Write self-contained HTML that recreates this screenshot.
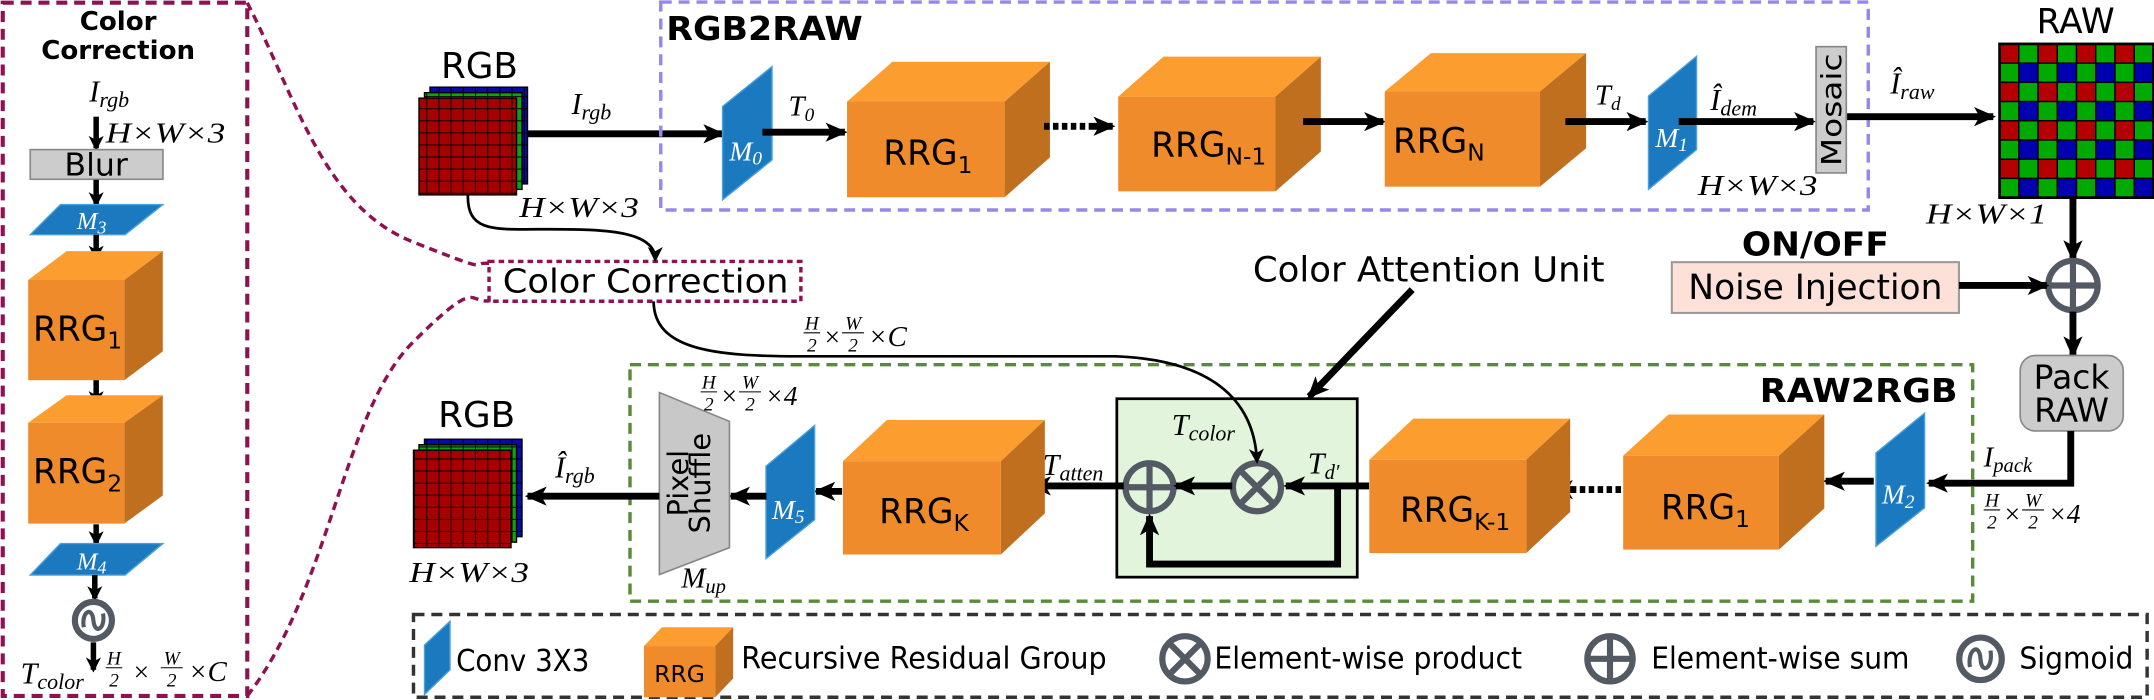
<!DOCTYPE html>
<html><head><meta charset="utf-8"><style>
html,body{margin:0;padding:0;background:#fff;}
svg{display:block;}
.s{font-family:"DejaVu Sans","Liberation Sans",sans-serif;fill:#000;}
.b{font-family:"DejaVu Sans","Liberation Sans",sans-serif;font-weight:bold;fill:#000;}
.m{font-family:"Liberation Serif",serif;font-style:italic;fill:#000;}
.mw{font-family:"Liberation Serif",serif;font-style:italic;fill:#fff;}
</style></head><body>
<svg width="2154" height="700" viewBox="0 0 1568 510" preserveAspectRatio="none" xmlns="http://www.w3.org/2000/svg">
<defs>
<marker id="a" markerUnits="userSpaceOnUse" markerWidth="16" markerHeight="14" refX="14" refY="7" orient="auto"><path d="M0,0 L16,7 L0,14 L4,7 z" fill="#000"/></marker>
<marker id="t" markerUnits="userSpaceOnUse" markerWidth="11" markerHeight="11" refX="9" refY="5.5" orient="auto"><path d="M0,0 L11,5.5 L0,11 L3,5.5 z" fill="#000"/></marker>
<pattern id="g8" x="0" y="0" width="8.875" height="8.8" patternUnits="userSpaceOnUse"><rect width="8.875" height="8.8" fill="none" stroke="#000" stroke-width="0.7"/></pattern>
</defs>

<!-- LEFT PANEL -->
<rect x="2" y="2" width="178" height="505" fill="none" stroke="#8e1150" stroke-width="3" stroke-dasharray="8,5"/>
<text class="b" x="86" y="22" font-size="19" text-anchor="middle">Color</text>
<text class="b" x="86" y="43" font-size="19" text-anchor="middle">Correction</text>
<text class="m" x="65" y="74" font-size="22">I<tspan font-size="16" dy="4">rgb</tspan></text>
<line x1="70" y1="85" x2="70" y2="108" stroke="#000" stroke-width="4" marker-end="url(#t)"/>
<text class="m" x="77" y="104" font-size="21" textLength="87" lengthAdjust="spacingAndGlyphs">H×W×3</text>
<rect x="22" y="109" width="96.6" height="21.6" fill="#cccccc" stroke="#888" stroke-width="1.2"/>
<text class="s" x="70" y="128" font-size="23" text-anchor="middle">Blur</text>
<line x1="70" y1="131" x2="70" y2="149" stroke="#000" stroke-width="4" marker-end="url(#t)"/>
<polygon points="22,171 91,171 118.6,149 44,149" fill="#1b7abf" stroke="#4aa0dc" stroke-width="1"/>
<text class="mw" x="56" y="167" font-size="18">M<tspan font-size="13" dy="3">3</tspan></text>
<line x1="70" y1="171" x2="70" y2="188" stroke="#000" stroke-width="4" marker-end="url(#t)"/>
<g>
<polygon points="20.5,204 48.5,183 118.5,183 90.5,204" fill="#fb9e2f"/>
<polygon points="90.5,204 118.5,183 118.5,256 90.5,277" fill="#c06f1f"/>
<rect x="20.5" y="204" width="70" height="73" fill="#ef8b2a"/>
<text class="s" x="24" y="248" font-size="25">RRG<tspan font-size="17" dy="6">1</tspan></text>
</g>
<line x1="70" y1="277" x2="70" y2="294" stroke="#000" stroke-width="4" marker-end="url(#t)"/>
<g>
<polygon points="20.5,308 48.5,288 118.5,288 90.5,308" fill="#fb9e2f"/>
<polygon points="90.5,308 118.5,288 118.5,361 90.5,381.5" fill="#c06f1f"/>
<rect x="20.5" y="308" width="70" height="73.5" fill="#ef8b2a"/>
<text class="s" x="24" y="352" font-size="25">RRG<tspan font-size="17" dy="6">2</tspan></text>
</g>
<line x1="70" y1="382" x2="70" y2="396" stroke="#000" stroke-width="4" marker-end="url(#t)"/>
<polygon points="22,419 91,419 118.6,396 44,396" fill="#1b7abf" stroke="#4aa0dc" stroke-width="1"/>
<text class="mw" x="56" y="415" font-size="18">M<tspan font-size="13" dy="3">4</tspan></text>
<line x1="69" y1="419" x2="69" y2="436" stroke="#000" stroke-width="4" marker-end="url(#t)"/>
<circle cx="68" cy="452" r="13.5" fill="none" stroke="#535a64" stroke-width="4.5"/>
<path d="M61,457 C59,446 67,441 68,452 C69,463 77,458 75,447" fill="none" stroke="#535a64" stroke-width="3"/>
<line x1="68" y1="468" x2="68" y2="488" stroke="#000" stroke-width="4" marker-end="url(#t)"/>
<text class="m" x="15" y="498" font-size="22">T<tspan font-size="16" dy="4">color</tspan></text>
<text class="m" x="83" y="484" font-size="14" text-anchor="middle">H</text>
<line x1="77" y1="486.5" x2="89" y2="486.5" stroke="#000" stroke-width="0.8"/>
<text class="m" x="83" y="500" font-size="14" text-anchor="middle" font-style="normal">2</text>
<text class="m" x="96" y="496" font-size="20" font-style="normal">×</text>
<text class="m" x="125" y="484" font-size="14" text-anchor="middle">W</text>
<line x1="117" y1="486.5" x2="133" y2="486.5" stroke="#000" stroke-width="0.8"/>
<text class="m" x="125" y="500" font-size="14" text-anchor="middle" font-style="normal">2</text>
<text class="m" x="137" y="496" font-size="21">×C</text>

<!-- dashed connector curves -->
<path d="M180,2 C215,70 235,150 300,176 S340,190 357,192" fill="none" stroke="#8e1150" stroke-width="2.5" stroke-dasharray="6,4"/>
<path d="M180,507 C240,430 250,300 300,250 S340,222 357,219" fill="none" stroke="#8e1150" stroke-width="2.5" stroke-dasharray="6,4"/>

<!-- Color Correction small box -->
<rect x="356" y="190.5" width="227" height="29" fill="#fff" stroke="#8e1150" stroke-width="2.5" stroke-dasharray="4,3"/>
<text class="s" x="366" y="213" font-size="24" textLength="208" lengthAdjust="spacingAndGlyphs">Color Correction</text>

<!-- top RGB -->
<text class="s" x="349" y="57" font-size="26" text-anchor="middle">RGB</text>
<rect x="313" y="63.5" width="71" height="70.5" fill="#0a0aa8"/><rect x="313" y="63.5" width="71" height="70.5" fill="url(#g8)" stroke="#000" stroke-width="1"/>
<rect x="309" y="67.5" width="71" height="70.5" fill="#10a010"/><rect x="309" y="67.5" width="71" height="70.5" fill="url(#g8)" stroke="#000" stroke-width="1"/>
<rect x="305" y="71.5" width="71" height="70.5" fill="#a60000"/><rect x="305" y="71.5" width="71" height="70.5" fill="url(#g8)" stroke="#000" stroke-width="1"/>
<line x1="384" y1="97.5" x2="526" y2="97.5" stroke="#000" stroke-width="5" marker-end="url(#a)"/>
<text class="m" x="416" y="83" font-size="22">I<tspan font-size="16" dy="4">rgb</tspan></text>
<text class="m" x="378" y="158" font-size="21" textLength="87" lengthAdjust="spacingAndGlyphs">H×W×3</text>
<path d="M340.6,142 C340,170 360,167 400,167 S477,168 477,189" fill="none" stroke="#000" stroke-width="2" marker-end="url(#t)"/>

<!-- RGB2RAW box -->
<rect x="481" y="1.5" width="879" height="151.5" fill="none" stroke="#9688e8" stroke-width="2.5" stroke-dasharray="8,5"/>
<text class="b" x="485" y="29" font-size="24" textLength="143" lengthAdjust="spacingAndGlyphs">RGB2RAW</text>
<polygon points="526,145.6 526,77.6 562,48.5 562,116.5" fill="#1b7abf" stroke="#4aa0dc" stroke-width="1"/>
<text class="mw" x="531" y="117" font-size="20">M<tspan font-size="14" dy="3">0</tspan></text>
<line x1="555" y1="96.3" x2="615" y2="96.3" stroke="#000" stroke-width="5" marker-end="url(#a)"/>
<text class="m" x="574" y="84" font-size="21">T<tspan font-size="14" dy="4">0</tspan></text>
<polygon points="616.6,74 649.6,45 764.3,45 731.3,74" fill="#fb9e2f"/>
<polygon points="731.3,74 764.3,45 764.3,114.7 731.3,143.7" fill="#c06f1f"/>
<rect x="616.6" y="74" width="114.7" height="69.7" fill="#ef8b2a"/>
<text class="s" x="643" y="120" font-size="25">RRG<tspan font-size="17" dy="6">1</tspan></text>
<line x1="760" y1="92" x2="798" y2="92" stroke="#000" stroke-width="5" stroke-dasharray="4,2.5"/>
<line x1="796" y1="92" x2="810" y2="92" stroke="#000" stroke-width="5" marker-end="url(#a)"/>
<polygon points="814,70.4 847,41.3 961.5,41.3 928.5,70.4" fill="#fb9e2f"/>
<polygon points="928.5,70.4 961.5,41.3 961.5,110.4 928.5,139.4" fill="#c06f1f"/>
<rect x="814" y="70.4" width="114.5" height="69" fill="#ef8b2a"/>
<text class="s" x="838" y="114" font-size="25">RRG<tspan font-size="17" dy="6">N-1</tspan></text>
<line x1="948.6" y1="88.6" x2="1007" y2="88.6" stroke="#000" stroke-width="5" marker-end="url(#a)"/>
<polygon points="1008,66.7 1041.6,38.7 1154.6,38.7 1121,66.7" fill="#fb9e2f"/>
<polygon points="1121,66.7 1154.6,38.7 1154.6,108 1121,136" fill="#c06f1f"/>
<rect x="1008" y="66.7" width="113" height="69.3" fill="#ef8b2a"/>
<text class="s" x="1014" y="111" font-size="25">RRG<tspan font-size="17" dy="6">N</tspan></text>
<line x1="1139.5" y1="88.6" x2="1198" y2="88.6" stroke="#000" stroke-width="5" marker-end="url(#a)"/>
<text class="m" x="1161" y="76" font-size="21">T<tspan font-size="14" dy="4">d</tspan></text>
<polygon points="1200,138 1200,70 1235,41 1235,109" fill="#1b7abf" stroke="#4aa0dc" stroke-width="1"/>
<text class="mw" x="1205" y="107" font-size="20">M<tspan font-size="14" dy="3">1</tspan></text>
<line x1="1222" y1="88.6" x2="1320" y2="88.6" stroke="#000" stroke-width="5" marker-end="url(#a)"/>
<text class="m" x="1245" y="80" font-size="22">Î<tspan font-size="16" dy="4">dem</tspan></text>
<rect x="1322" y="34" width="22" height="92" fill="#cccccc" stroke="#888" stroke-width="1.2"/>
<text class="s" transform="translate(1340,80) rotate(-90)" x="0" y="0" font-size="20" text-anchor="middle" textLength="82" lengthAdjust="spacingAndGlyphs">Mosaic</text>
<text class="m" x="1236" y="142" font-size="21" textLength="87" lengthAdjust="spacingAndGlyphs">H×W×3</text>
<line x1="1344.6" y1="85" x2="1451" y2="85" stroke="#000" stroke-width="5" marker-end="url(#a)"/>
<text class="m" x="1376" y="68" font-size="22">Î<tspan font-size="16" dy="4">raw</tspan></text>

<!-- RAW grid -->
<text class="s" x="1511" y="24" font-size="25" text-anchor="middle">RAW</text>
<g stroke="#000" stroke-width="1">
<g id="r0">
<rect x="1455.6" y="32" width="14" height="14" fill="#b40000"/><rect x="1469.6" y="32" width="14" height="14" fill="#00aa00"/><rect x="1483.6" y="32" width="14" height="14" fill="#b40000"/><rect x="1497.6" y="32" width="14" height="14" fill="#00aa00"/><rect x="1511.6" y="32" width="14" height="14" fill="#b40000"/><rect x="1525.6" y="32" width="14" height="14" fill="#00aa00"/><rect x="1539.6" y="32" width="14" height="14" fill="#b40000"/><rect x="1553.6" y="32" width="14" height="14" fill="#00aa00"/>
</g>
<g id="r1">
<rect x="1455.6" y="46" width="14" height="14" fill="#00aa00"/><rect x="1469.6" y="46" width="14" height="14" fill="#0000b0"/><rect x="1483.6" y="46" width="14" height="14" fill="#00aa00"/><rect x="1497.6" y="46" width="14" height="14" fill="#0000b0"/><rect x="1511.6" y="46" width="14" height="14" fill="#00aa00"/><rect x="1525.6" y="46" width="14" height="14" fill="#0000b0"/><rect x="1539.6" y="46" width="14" height="14" fill="#00aa00"/><rect x="1553.6" y="46" width="14" height="14" fill="#0000b0"/>
</g>
<use href="#r0" y="28"/><use href="#r1" y="28"/>
<use href="#r0" y="56"/><use href="#r1" y="56"/>
<use href="#r0" y="84"/><use href="#r1" y="84"/>
</g>
<rect x="1455.6" y="32" width="112" height="112" fill="none" stroke="#000" stroke-width="2"/>
<text class="m" x="1402" y="163" font-size="21" textLength="88" lengthAdjust="spacingAndGlyphs">H×W×1</text>
<line x1="1509" y1="144" x2="1509" y2="189" stroke="#000" stroke-width="5" marker-end="url(#a)"/>
<circle cx="1509" cy="208" r="18" fill="none" stroke="#535a64" stroke-width="4.5"/>
<line x1="1491" y1="208" x2="1527" y2="208" stroke="#535a64" stroke-width="4.5"/><line x1="1509" y1="190" x2="1509" y2="226" stroke="#535a64" stroke-width="4.5"/>
<text class="b" x="1268" y="186" font-size="24" textLength="107" lengthAdjust="spacingAndGlyphs">ON/OFF</text>
<rect x="1217" y="191" width="209" height="37" fill="#fde0d8" stroke="#999" stroke-width="1.5"/>
<text class="s" x="1229" y="218" font-size="25" textLength="185" lengthAdjust="spacingAndGlyphs">Noise Injection</text>
<line x1="1426" y1="208" x2="1490" y2="208" stroke="#000" stroke-width="5" marker-end="url(#a)"/>
<line x1="1509" y1="227" x2="1509" y2="259" stroke="#000" stroke-width="5" marker-end="url(#a)"/>
<rect x="1470.6" y="259" width="75" height="55" rx="11" fill="#cccccc" stroke="#888" stroke-width="1.2"/>
<text class="s" x="1508" y="283" font-size="24" text-anchor="middle">Pack</text>
<text class="s" x="1508" y="307" font-size="24" text-anchor="middle">RAW</text>
<polyline points="1507.4,314 1507.4,352 1404,352" fill="none" stroke="#000" stroke-width="5" marker-end="url(#a)"/>
<text class="m" x="1444" y="340" font-size="21">I<tspan font-size="15" dy="4">pack</tspan></text>
<text class="m" x="1450" y="369" font-size="14" text-anchor="middle">H</text>
<line x1="1444" y1="371.5" x2="1456" y2="371.5" stroke="#000" stroke-width="0.8"/>
<text class="m" x="1450" y="385" font-size="14" text-anchor="middle" font-style="normal">2</text>
<text class="m" x="1458" y="381" font-size="20" font-style="normal">×</text>
<text class="m" x="1480" y="369" font-size="14" text-anchor="middle">W</text>
<line x1="1472" y1="371.5" x2="1488" y2="371.5" stroke="#000" stroke-width="0.8"/>
<text class="m" x="1480" y="385" font-size="14" text-anchor="middle" font-style="normal">2</text>
<text class="m" x="1491" y="381" font-size="20" font-style="normal">×4</text>

<!-- RAW2RGB box -->
<rect x="458.6" y="265.7" width="977.4" height="172.3" fill="none" stroke="#5a8a3a" stroke-width="2.5" stroke-dasharray="8,5"/>
<text class="b" x="1281" y="293" font-size="24" textLength="144" lengthAdjust="spacingAndGlyphs">RAW2RGB</text>
<polygon points="1365.6,398 1365.6,330 1401,301 1401,370" fill="#1b7abf" stroke="#4aa0dc" stroke-width="1"/>
<text class="mw" x="1370" y="367" font-size="20">M<tspan font-size="14" dy="3">2</tspan></text>
<line x1="1364" y1="350.6" x2="1329" y2="350.6" stroke="#000" stroke-width="5" marker-end="url(#a)"/>
<polygon points="1181.6,332 1214.6,302 1328,302 1295,332" fill="#fb9e2f"/>
<polygon points="1295,332 1328,302 1328,370.4 1295,400.4" fill="#c06f1f"/>
<rect x="1181.6" y="332" width="113.4" height="68.4" fill="#ef8b2a"/>
<text class="s" x="1209" y="378" font-size="25">RRG<tspan font-size="17" dy="6">1</tspan></text>
<line x1="1180" y1="356.7" x2="1142" y2="356.7" stroke="#000" stroke-width="5" stroke-dasharray="4,2.5"/>
<line x1="1144" y1="356.7" x2="1131" y2="356.7" stroke="#000" stroke-width="5" marker-end="url(#a)"/>
<polygon points="996.8,335 1028.8,305 1143,305 1111,335" fill="#fb9e2f"/>
<polygon points="1111,335 1143,305 1143,373 1111,403" fill="#c06f1f"/>
<rect x="996.8" y="335" width="114.2" height="68" fill="#ef8b2a"/>
<text class="s" x="1019" y="380" font-size="25">RRG<tspan font-size="17" dy="6">K-1</tspan></text>

<!-- Color attention unit -->
<rect x="813" y="290.5" width="175" height="130" fill="#e2f5dc" stroke="#000" stroke-width="2"/>
<line x1="996.6" y1="354" x2="936" y2="354" stroke="#000" stroke-width="5" marker-end="url(#a)"/>
<polyline points="973.7,354 973.7,411 836.8,411 836.8,376" fill="none" stroke="#000" stroke-width="5" marker-end="url(#a)"/>
<text class="m" x="952" y="345" font-size="22">T<tspan font-size="15" dy="4">d′</tspan></text>
<circle cx="915" cy="355" r="17.5" fill="none" stroke="#535a64" stroke-width="4.5"/>
<line x1="902.6" y1="342.6" x2="927.4" y2="367.4" stroke="#535a64" stroke-width="4.5"/><line x1="927.4" y1="342.6" x2="902.6" y2="367.4" stroke="#535a64" stroke-width="4.5"/>
<circle cx="836.8" cy="355" r="17.5" fill="none" stroke="#535a64" stroke-width="4.5"/>
<line x1="819.3" y1="355" x2="854.3" y2="355" stroke="#535a64" stroke-width="4.5"/><line x1="836.8" y1="337.5" x2="836.8" y2="372.5" stroke="#535a64" stroke-width="4.5"/>
<line x1="897" y1="354" x2="856" y2="354" stroke="#000" stroke-width="5" marker-end="url(#a)"/>
<line x1="818" y1="354" x2="751" y2="354" stroke="#000" stroke-width="5" marker-end="url(#a)"/>
<text class="m" x="853" y="317" font-size="22">T<tspan font-size="16" dy="4">color</tspan></text>
<text class="m" x="759" y="346" font-size="22">T<tspan font-size="16" dy="4">atten</tspan></text>
<path d="M475.8,219.6 C476,255 520,259.6 583,259.6 L812,259.6 C880,262 913,290 915,336" fill="none" stroke="#000" stroke-width="2" marker-end="url(#t)"/>
<text class="m" x="591" y="240" font-size="14" text-anchor="middle">H</text>
<line x1="585" y1="242.5" x2="597" y2="242.5" stroke="#000" stroke-width="0.8"/>
<text class="m" x="591" y="256" font-size="14" text-anchor="middle" font-style="normal">2</text>
<text class="m" x="599" y="252" font-size="20" font-style="normal">×</text>
<text class="m" x="621" y="240" font-size="14" text-anchor="middle">W</text>
<line x1="613" y1="242.5" x2="629" y2="242.5" stroke="#000" stroke-width="0.8"/>
<text class="m" x="621" y="256" font-size="14" text-anchor="middle" font-style="normal">2</text>
<text class="m" x="632" y="252" font-size="21">×C</text>
<text class="s" x="912" y="205" font-size="25" textLength="256" lengthAdjust="spacingAndGlyphs">Color Attention Unit</text>
<line x1="1028" y1="211" x2="953" y2="289" stroke="#000" stroke-width="5" marker-end="url(#a)"/>

<!-- RRGK -->
<polygon points="613.6,336 645.6,306 760.6,306 728.6,336" fill="#fb9e2f"/>
<polygon points="728.6,336 760.6,306 760.6,374 728.6,404" fill="#c06f1f"/>
<rect x="613.6" y="336" width="115" height="68" fill="#ef8b2a"/>
<text class="s" x="640" y="381" font-size="25">RRG<tspan font-size="17" dy="6">K</tspan></text>
<line x1="613" y1="358" x2="594" y2="358" stroke="#000" stroke-width="5" marker-end="url(#a)"/>
<polygon points="557.6,407 557.6,339.7 593,310 593,378.6" fill="#1b7abf" stroke="#4aa0dc" stroke-width="1"/>
<text class="mw" x="562" y="378" font-size="20">M<tspan font-size="14" dy="3">5</tspan></text>
<line x1="558" y1="361.5" x2="532" y2="361.5" stroke="#000" stroke-width="5" marker-end="url(#a)"/>
<polygon points="480,286 531,307 531,399 480,418.6" fill="#c8c8c8" stroke="#888" stroke-width="1.2"/>
<g transform="translate(505,352) rotate(-90)">
<text class="s" x="0" y="-4" font-size="21" text-anchor="middle">Pixel</text>
<text class="s" x="0" y="12" font-size="21" text-anchor="middle">Shuffle</text>
</g>
<text class="m" x="516" y="283" font-size="14" text-anchor="middle">H</text>
<line x1="510" y1="285.5" x2="522" y2="285.5" stroke="#000" stroke-width="0.8"/>
<text class="m" x="516" y="299" font-size="14" text-anchor="middle" font-style="normal">2</text>
<text class="m" x="524" y="295" font-size="20" font-style="normal">×</text>
<text class="m" x="546" y="283" font-size="14" text-anchor="middle">W</text>
<line x1="538" y1="285.5" x2="554" y2="285.5" stroke="#000" stroke-width="0.8"/>
<text class="m" x="546" y="299" font-size="14" text-anchor="middle" font-style="normal">2</text>
<text class="m" x="557" y="295" font-size="20" font-style="normal">×4</text>
<text class="m" x="496" y="428" font-size="21">M<tspan font-size="15" dy="4">up</tspan></text>
<line x1="480" y1="361.5" x2="384" y2="361.5" stroke="#000" stroke-width="5" marker-end="url(#a)"/>
<text class="m" x="404" y="348" font-size="22">Î<tspan font-size="16" dy="4">rgb</tspan></text>

<!-- output RGB -->
<text class="s" x="347" y="311" font-size="26" text-anchor="middle">RGB</text>
<rect x="309" y="320" width="71" height="71" fill="#0a0aa8"/><rect x="309" y="320" width="71" height="71" fill="url(#g8)" stroke="#000" stroke-width="1"/>
<rect x="305" y="324" width="71" height="71" fill="#10a010"/><rect x="305" y="324" width="71" height="71" fill="url(#g8)" stroke="#000" stroke-width="1"/>
<rect x="301" y="328" width="71" height="71" fill="#a60000"/><rect x="301" y="328" width="71" height="71" fill="url(#g8)" stroke="#000" stroke-width="1"/>
<text class="m" x="298" y="424" font-size="21" textLength="87" lengthAdjust="spacingAndGlyphs">H×W×3</text>

<!-- Legend -->
<rect x="301" y="447.7" width="1262" height="60.3" fill="none" stroke="#333" stroke-width="2.5" stroke-dasharray="8,5"/>
<polygon points="309,506 309,470 327.6,452.6 327.6,488" fill="#1b7abf" stroke="#4aa0dc" stroke-width="1"/>
<text class="s" x="332" y="489" font-size="22" textLength="97" lengthAdjust="spacingAndGlyphs">Conv 3X3</text>
<polygon points="468.8,470.7 481.8,457 533.7,457 520.6,470.7" fill="#fb9e2f"/>
<polygon points="520.6,470.7 533.7,457 533.7,494.3 520.6,508" fill="#c06f1f"/>
<rect x="468.8" y="470.7" width="51.8" height="37.3" fill="#ef8b2a"/>
<text class="s" x="494.7" y="497" font-size="17" text-anchor="middle">RRG</text>
<text class="s" x="539.6" y="487" font-size="22" textLength="266" lengthAdjust="spacingAndGlyphs">Recursive Residual Group</text>
<circle cx="862.6" cy="480" r="16.5" fill="none" stroke="#535a64" stroke-width="4.5"/>
<line x1="850.9" y1="468.3" x2="874.3" y2="491.7" stroke="#535a64" stroke-width="4.5"/><line x1="874.3" y1="468.3" x2="850.9" y2="491.7" stroke="#535a64" stroke-width="4.5"/>
<text class="s" x="884" y="487" font-size="22" textLength="224" lengthAdjust="spacingAndGlyphs">Element-wise product</text>
<circle cx="1172" cy="480" r="16.5" fill="none" stroke="#535a64" stroke-width="4.5"/>
<line x1="1155.5" y1="480" x2="1188.5" y2="480" stroke="#535a64" stroke-width="4.5"/><line x1="1172" y1="463.5" x2="1172" y2="496.5" stroke="#535a64" stroke-width="4.5"/>
<text class="s" x="1202" y="487" font-size="22" textLength="188" lengthAdjust="spacingAndGlyphs">Element-wise sum</text>
<circle cx="1441.7" cy="480" r="15.5" fill="none" stroke="#535a64" stroke-width="4.5"/>
<path d="M1434,486 C1432,473 1441,468 1441.7,480 C1442.4,492 1451,487 1449,474" fill="none" stroke="#535a64" stroke-width="3"/>
<text class="s" x="1470" y="487" font-size="22" textLength="83" lengthAdjust="spacingAndGlyphs">Sigmoid</text>
</svg>
</body></html>
